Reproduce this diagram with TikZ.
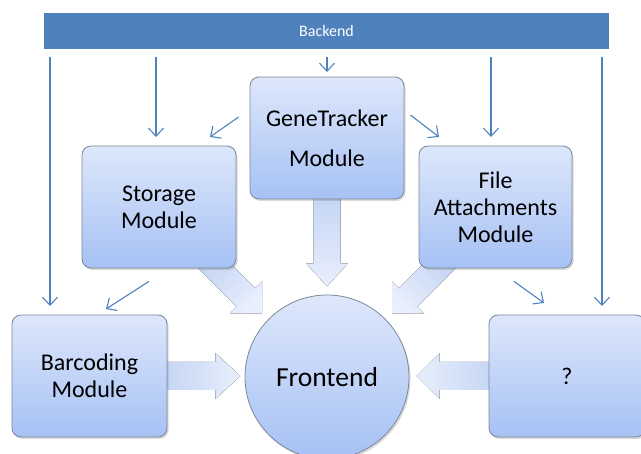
\documentclass[tikz,border=0pt]{standalone}
\usepackage{fontspec}
\setmainfont{Carlito}
\usetikzlibrary{arrows.meta}
\usetikzlibrary{shadows}
\usetikzlibrary{backgrounds}

\definecolor{backblue}{HTML}{4F81BD}
\definecolor{boxtop}{HTML}{DDE7FB}
\definecolor{boxbot}{HTML}{A6C1F4}
\definecolor{boxline}{HTML}{7C8799}
\definecolor{arrdark}{HTML}{C3D4F4}
\definecolor{arrlight}{HTML}{E9EFFC}

\tikzset{
  modbox/.style={draw=boxline, line width=0.8pt, rounded corners=9pt,
    top color=boxtop, bottom color=boxbot, align=center, inner sep=0pt,
    font=\fontsize{24}{27}\selectfont, minimum width=154pt, minimum height=122pt,
    drop shadow={shadow xshift=1.5pt, shadow yshift=-2pt, opacity=0.3}},
  feed/.style={draw=backblue, line width=1.1pt,
    -{Straight Barb[length=8pt,width=15pt,line width=1.1pt]}},
  bigarrow/.style={draw=none}
}

\begin{document}
\begin{tikzpicture}[x=1pt,y=-1pt,line join=round]
  \useasboundingbox (0,0) rectangle (641,454);
  \clip (0,0) rectangle (641,454);

  \node[fill=backblue, minimum width=565pt, minimum height=36pt, inner sep=0pt,
    text=white, font=\fontsize{16}{19}\selectfont] (backend) at (326.5,31) {Backend};

  \node[modbox] (gene) at (327,138) {GeneTracker\\[13pt]Module};
  \node[modbox] (store) at (159,207) {Storage\\Module};
  \node[modbox, minimum width=153pt] (files) at (495.5,207) {File\\Attachments\\Module};
  \node[modbox, minimum width=155pt] (barcode) at (89.5,376) {Barcoding\\Module};
  \node[modbox, minimum width=156pt] (unknown) at (567,376) {?};
  \node[circle, draw=boxline, line width=0.8pt, top color=boxtop, bottom color=boxbot,
    minimum size=164pt, inner sep=0pt, font=\fontsize{27.5}{32}\selectfont,
    drop shadow={shadow xshift=1.5pt, shadow yshift=-2pt, opacity=0.3}] (front) at (327,377) {Frontend};

  % wide arrows into the frontend
  \begin{scope}[on background layer]
    \fill[bigarrow, top color=arrdark, bottom color=arrlight]
      ([shift={(-13.5,-7)}]gene.south) -- ++(0,71) -- ++(-7.5,0) -- ++(21,23)
      -- ++(21,-23) -- ++(-7.5,0) -- ++(0,-71) -- cycle;
    \fill[bigarrow, top color=arrdark, bottom color=arrlight, shading angle=45]
      ([shift={(31.6,-8)}]store.south) -- ++(46.2,46.2) -- ++(-6.8,6.8) -- ++(32,0)
      -- ++(0,-32) -- ++(-6.8,6.8) -- ++(-27.8,-27.8) -- cycle;
    \fill[bigarrow, top color=arrdark, bottom color=arrlight, shading angle=-45]
      ([shift={(-32.1,-8)}]files.south) -- ++(-46.2,46.2) -- ++(6.8,6.8) -- ++(-32,0)
      -- ++(0,-32) -- ++(6.8,6.8) -- ++(27.8,-27.8) -- cycle;
    \fill[bigarrow, left color=arrdark, right color=arrlight]
      ([shift={(-7,-14)}]barcode.east) -- ++(55,0) -- ++(0,-9) -- ++(25,23)
      -- ++(-25,23) -- ++(0,-9) -- ++(-55,0) -- cycle;
    \fill[bigarrow, right color=arrdark, left color=arrlight]
      ([shift={(7,-14)}]unknown.west) -- ++(-56,0) -- ++(0,-9) -- ++(-23,23)
      -- ++(23,23) -- ++(0,-9) -- ++(56,0) -- cycle;
  \end{scope}

  % thin arrows
  \foreach \i/\x/\y in {1/50/306, 2/156/137, 3/327/72, 4/491/137, 5/602/306}
    \coordinate (t\i) at (\x,\y);
  \foreach \i in {1,...,5}
    \draw[feed] ([yshift=-8pt]backend.south -| t\i) -- (t\i);

  \coordinate (gl) at (210,137);
  \coordinate (gr) at (439,137);
  \coordinate (sl) at (106,309);
  \coordinate (fr) at (544,303);
  \draw[feed] ([shift={(-11,-21)}]gene.west) -- (gl);
  \draw[feed] ([shift={(6,-23)}]gene.east) -- (gr);
  \draw[feed] ([shift={(-10,13)}]store.south) -- (sl);
  \draw[feed] ([shift={(18.5,13)}]files.south) -- (fr);
\end{tikzpicture}
\end{document}
